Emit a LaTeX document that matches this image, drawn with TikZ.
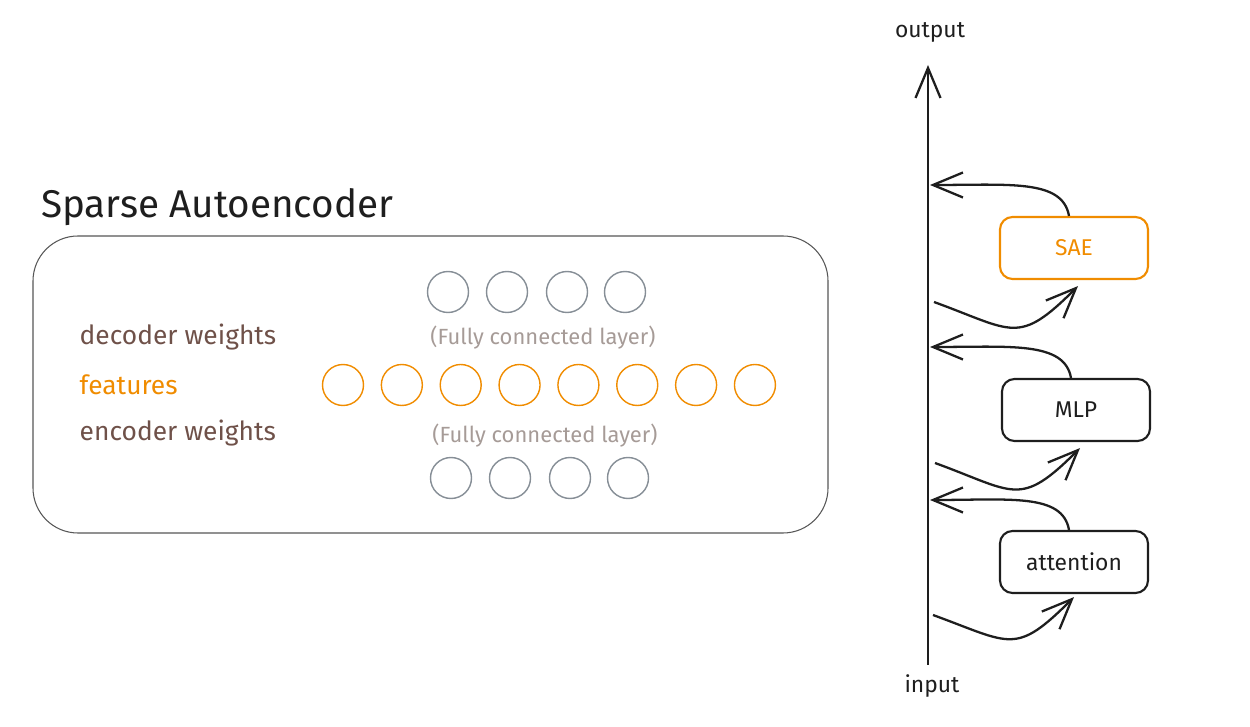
\documentclass[tikz,border=0pt]{standalone}
\usepackage{fontspec}
\setmainfont{Fira Sans}
\usetikzlibrary{arrows.meta}
\definecolor{saeOrange}{RGB}{240, 140, 0}
\definecolor{labelBrown}{RGB}{111, 81, 73}
\definecolor{unitGray}{RGB}{134, 142, 150}
\definecolor{noteGray}{RGB}{166, 155, 151}
\definecolor{inkBlack}{RGB}{30, 30, 30}

\begin{document}
\begin{tikzpicture}[
    unit/.style={circle, draw=unitGray, line width=0.8pt, minimum size=0.82cm, inner sep=0pt},
    feat/.style={unit, draw=saeOrange},
    block/.style={draw=inkBlack, rounded corners=0.25cm, line width=1.2pt,
      minimum width=2.96cm, minimum height=1.24cm, font=\fontsize{13}{15}\selectfont, text=inkBlack},
    flow/.style={inkBlack, line width=1.3pt, -{Straight Barb[length=6mm,width=5mm]}},
    side/.style={anchor=west, font=\fontsize{15}{18}\selectfont},
    note/.style={text=noteGray, font=\fontsize{12.5}{15}\selectfont}
  ]
      \useasboundingbox (0,0) rectangle (25,14.52);

      % Title and outer frame
      \node[anchor=west, text=inkBlack, font=\fontsize{22}{26}\selectfont] (title) at (0.7,10.38) {Sparse Autoencoder};
      \draw[inkBlack!75, line width=0.6pt, rounded corners=0.9cm] (0.66,3.86) rectangle (16.56,9.8);

      % Row labels
      \node[side, text=labelBrown] (declabel) at (1.47,7.78) {decoder weights};
      \node[side, text=saeOrange] (featlabel) at (1.47,6.82) {features};
      \node[side, text=labelBrown] (enclabel) at (1.47,5.86) {encoder weights};

      % Decoder units
      \foreach \i/\x in {1/8.96, 2/10.14, 3/11.34, 4/12.5}
        \node[unit] (dec\i) at (\x,8.68) {};
      \node[note] (decnote) at (10.86,7.76) {(Fully connected layer)};

      % Feature units
      \foreach \i in {1,...,8}
        \node[feat] (feat\i) at ({6.86+(\i-1)*1.177},6.82) {};

      % Encoder units
      \node[note] (encnote) at (10.9,5.8) {(Fully connected layer)};
      \foreach \i/\x in {1/9.02, 2/10.2, 3/11.4, 4/12.56}
        \node[unit] (enc\i) at (\x,4.96) {};

      % Residual stream
      \coordinate (in) at (18.56,1.22);
      \coordinate (out) at (18.56,13.22);
      \draw[flow] (in) -- (out);
      \node[font=\fontsize{13}{15}\selectfont, text=inkBlack] (outlabel) at (18.6,13.88) {output};
      \node[font=\fontsize{13}{15}\selectfont, text=inkBlack] (inlabel) at (18.64,0.8) {input};

      % Blocks
      \node[block] (attn) at (21.48,3.28) {attention};
      \node[block] (mlp) at (21.52,6.32) {MLP};
      \node[block, draw=saeOrange, text=saeOrange] (sae) at (21.48,9.56) {SAE};

      % Read and write points on the stream
      \coordinate (attnread) at (18.66,2.22);
      \coordinate (attnwrite) at (18.6,4.52);
      \coordinate (mlpread) at (18.7,5.26);
      \coordinate (mlpwrite) at (18.6,7.58);
      \coordinate (saeread) at (18.68,8.48);
      \coordinate (saewrite) at (18.6,10.82);

      % Into each block
      \draw[flow] (attnread) to[out=-20, in=225, looseness=1.5] ([shift={(0,-0.06)}]attn.south);
      \draw[flow] (mlpread) to[out=-20, in=225, looseness=1.5] ([shift={(0.08,-0.12)}]mlp.south);
      \draw[flow] (saeread) to[out=-20, in=225, looseness=1.5] ([shift={(0.08,-0.12)}]sae.south);

      % Back onto the stream
      \draw[flow] ([xshift=-0.1cm]attn.north) .. controls +(100:0.75) and +(1.6,0) .. (attnwrite);
      \draw[flow] ([xshift=-0.1cm]mlp.north) .. controls +(100:0.75) and +(1.6,0) .. (mlpwrite);
      \draw[flow] ([xshift=-0.1cm]sae.north) .. controls +(100:0.75) and +(1.6,0) .. (saewrite);
    \end{tikzpicture}
\end{document}
